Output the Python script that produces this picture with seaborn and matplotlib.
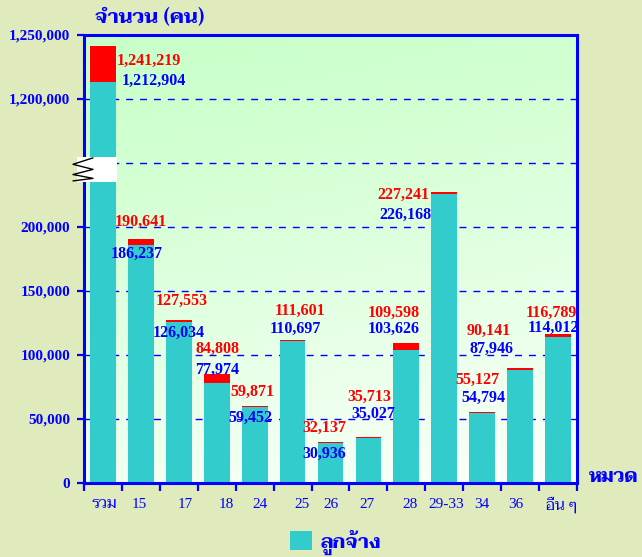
import numpy as np
import pandas as pd
import matplotlib
matplotlib.use("Agg")
import matplotlib.pyplot as plt
import seaborn as sns
from matplotlib import font_manager
from matplotlib.ft2font import FT2Font
from matplotlib.patches import Rectangle, Patch
from matplotlib.transforms import blended_transform_factory

# ---------------- data ----------------
categories = ["รวม", "15", "17", "18", "24", "25", "26", "27", "28", "29-33", "34", "36", "อื่น ๆ"]
totals = [1241219, 190641, 127553, 84808, 59871, 111601, 32137, 35713, 109598, 227241, 55127, 90141, 116789]
employees = [1212904, 186237, 126034, 77974, 59452, 110697, 30936, 35027, 103626, 226168, 54794, 87946, 114012]
y_tick_values = [0, 50000, 100000, 150000, 200000, 1200000, 1250000]
legend_label = "ลูกจ้าง"
y_title = "จำนวน (คน)"
x_title = "หมวด"

# broken axis: values above BREAK_LOW are shifted down by the gap
BREAK_LOW = 250000
BREAK_HIGH = 1150000


def squash(v):
    return v if v <= BREAK_LOW else v - (BREAK_HIGH - BREAK_LOW)


# ---------------- styles / label offsets (pixels) ----------------
red_dx = [14, 0, 3, 1, -2, 7, -6, 1, -13, -41, -5, -31, -7]
red_dy = [-15, 17, 19, 26, 14, 29, 14, 40, 30, -3, 33, 37, 21]
blue_dx = [19, -4, 0, 0, -4, 3, -6, 5, -13, -39, 1, -29, -5]
blue_dy = [-35, -15, -13, 5, -12, 11, -12, 23, 14, -23, 15, 19, 6]
xlab_dx = [1, -2, 6, 10, 5, 9, 1, -1, 4, 2, 0, -4, 4]

BLUE = "#0000FF"
RED = "#FF0000"
TEAL = "#33CCCC"
FIG_BG = "#DFEABD"


def thai_fonts():
    names = []
    for f in font_manager.fontManager.ttflist:
        try:
            ft = FT2Font(f.fname)
            if ft.get_char_index(ord("จ")) and ft.get_char_index(ord("ๆ")):
                if f.name not in names:
                    names.append(f.name)
        except Exception:
            pass
    return names


ALL_THAI = thai_fonts()


def pick_thai():
    pref = ["Taviraj", "Trirong", "Noto Serif Thai", "Noto Sans Thai Looped", "Sarabun",
            "Noto Sans Thai"]
    for p in pref:
        if p in ALL_THAI:
            return p
    return ALL_THAI[0] if ALL_THAI else "DejaVu Sans"


THAI = pick_thai()
SERIF = "Liberation Serif"

sns.set_theme(style="white")
plt.rcParams["font.family"] = [SERIF, THAI, "DejaVu Sans"]

df = pd.DataFrame({
    "category": categories,
    "total": [squash(v) for v in totals],
    "employees": [squash(v) for v in employees],
})

W, H = 642, 557
fig = plt.figure(figsize=(W / 100, H / 100), dpi=100)
fig.patch.set_facecolor(FIG_BG)
ax = fig.add_axes([84 / W, 74 / H, 493 / W, 448 / H])

# gradient background of the plot area
grad = np.zeros((100, 100, 3))
yy, xx = np.mgrid[0:1:100j, 0:1:100j]
t = np.clip(0.8 * yy + 0.2 * xx, 0, 1) ** 1.2  # 0 at top-left, 1 at bottom-right
top = np.array([200, 255, 200]) / 255
bot = np.array([252, 255, 252]) / 255
for c in range(3):
    grad[..., c] = top[c] + (bot[c] - top[c]) * t
ax.imshow(grad, extent=[0, 1, 0, 1], transform=ax.transAxes, aspect="auto", zorder=0)

sns.barplot(data=df, x="category", y="total", order=categories, color=RED,
            saturation=1, width=0.68, linewidth=0, edgecolor="none", ax=ax, zorder=2)
sns.barplot(data=df, x="category", y="employees", order=categories, color=TEAL,
            saturation=1, width=0.68, linewidth=0, edgecolor="none", ax=ax, zorder=3)

ax.set_xlim(-0.5, len(categories) - 0.5)
ax.set_ylim(0, squash(1250000))
ax.set_xlabel("")
ax.set_ylabel("")

# y ticks (plus the break line at BREAK_LOW)
yt = [squash(v) for v in y_tick_values]
ticks_all = sorted(yt + [BREAK_LOW])
labels_all = []
for tv in ticks_all:
    if tv in yt:
        labels_all.append(f"{y_tick_values[yt.index(tv)]:,}")
    else:
        labels_all.append("")
ax.set_yticks(ticks_all)
ax.set_yticklabels(labels_all, fontsize=11, fontweight="bold", color=BLUE, family=SERIF)
ax.tick_params(axis="y", direction="out", length=5, width=1.6, color=BLUE, pad=5, left=True)

# x ticks at category boundaries
ax.set_xticks(np.arange(-0.5, len(categories), 1.0))
ax.set_xticklabels([])
ax.tick_params(axis="x", direction="out", length=6, width=1.6, color=BLUE, bottom=True)

ax.set_axisbelow(True)
ax.yaxis.grid(True, color=BLUE, linestyle=(0, (5, 5)), linewidth=1.0)
ax.xaxis.grid(False)

for s in ax.spines.values():
    s.set_visible(True)
    s.set_color(BLUE)
    s.set_linewidth(2.2)
    s.set_zorder(6)

# category labels
for i, cat in enumerate(categories):
    ax.annotate(cat, xy=(i, 0), xycoords=("data", "axes fraction"),
                xytext=(xlab_dx[i], -22), textcoords="offset pixels",
                ha="center", va="center", fontsize=11, color=BLUE,
                family=[SERIF, THAI, "DejaVu Sans"], annotation_clip=False)

# value labels
for i in range(len(categories)):
    top_y = squash(totals[i])
    ha = "left" if i == 0 else "center"
    ax.annotate(f"{totals[i]:,}", xy=(i, top_y), xytext=(red_dx[i], red_dy[i]),
                textcoords="offset pixels", ha=ha, va="center", fontsize=11.5,
                fontweight="bold", color=RED, family=SERIF, zorder=7, annotation_clip=False)
    ax.annotate(f"{employees[i]:,}", xy=(i, top_y), xytext=(blue_dx[i], blue_dy[i]),
                textcoords="offset pixels", ha=ha, va="center", fontsize=11.5,
                fontweight="bold", color=BLUE, family=SERIF, zorder=7, annotation_clip=False)

# axis break marker
bt = blended_transform_factory(ax.transAxes, ax.transData)
ax.add_patch(Rectangle((-7 / 493, 235000), 40 / 493, 20000, transform=bt,
                       facecolor="white", edgecolor="none", clip_on=False, zorder=8))
zx = np.array([93, 73, 93, 73, 93, 73]) - 84
zy = np.array([254000, 249000, 245000, 241000, 238000, 236000])
ax.plot(zx / 493, zy, transform=bt, color="black", linewidth=1.0, clip_on=False, zorder=9)

# titles
fig.text(95 / W, 1 - 17 / H, y_title, ha="left", va="center", fontsize=14.3,
         fontweight="bold", color=BLUE, family=[THAI, "DejaVu Sans"])
fig.text(589 / W, 1 - 478 / H, x_title, ha="left", va="center", fontsize=13.3,
         fontweight="bold", color=BLUE, family=[THAI, "DejaVu Sans"])

# legend
handle = Patch(facecolor=TEAL, edgecolor="none")
fig.legend([handle], [legend_label], loc="center", bbox_to_anchor=(336 / W, 1 - 542 / H),
           frameon=False, handlelength=1.1, handleheight=1.1, handletextpad=0.45,
           labelcolor=BLUE,
           prop=font_manager.FontProperties(family=[THAI, "DejaVu Sans"], weight="bold", size=14.2))

fig.savefig("out.png", dpi=100, facecolor=FIG_BG)
